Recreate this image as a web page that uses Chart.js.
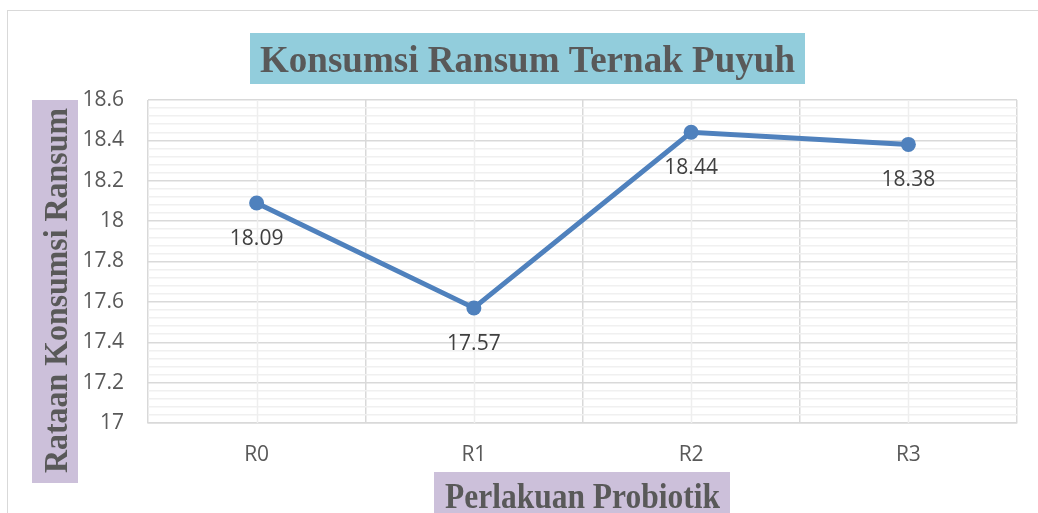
<!DOCTYPE html>
<html><head><meta charset="utf-8">
<script src="https://cdn.jsdelivr.net/npm/chart.js@4/dist/chart.umd.min.js"></script>
<style>
html,body{margin:0;padding:0;background:#fff;overflow:hidden;width:1038px;height:513px}
#frame{position:absolute;left:7px;top:10px;width:1100px;height:600px;border:1px solid #d9d9d9;}
#wrap{position:absolute;left:0;top:0;width:1038px;height:513px}
canvas{display:block}
</style></head><body>
<div id="frame"></div>
<div id="wrap"><canvas id="c" width="1038" height="513" style="width:1038px;height:513px"></canvas></div>
<script>
const categories = ['R0', 'R1', 'R2', 'R3'];
const values = [18.09, 17.57, 18.44, 18.38];
const yTickLabels = ['17', '17.2', '17.4', '17.6', '17.8', '18', '18.2', '18.4', '18.6'];
const chartTitle = 'Konsumsi Ransum Ternak Puyuh';
const xTitle = 'Perlakuan Probiotik';
const yTitle = 'Rataan Konsumsi Ransum';

const TICK_FONT = {family: '"Open Sans", "Noto Sans", sans-serif', size: 21};
const TEXT_COLOR = '#595959';

function isMajor(v) { return Math.abs(v * 5 - Math.round(v * 5)) < 1e-6; }

const boxedTitles = {
  id: 'boxedTitles',
  afterDraw(chart, args, opts) {
    const ctx = chart.ctx;
    for (const b of opts.boxes) {
      ctx.save();
      ctx.fillStyle = b.bg;
      ctx.fillRect(b.rect[0], b.rect[1], b.rect[2], b.rect[3]);
      ctx.font = 'bold ' + b.size + 'px "Liberation Serif", "Times New Roman", serif';
      ctx.fillStyle = TEXT_COLOR;
      ctx.textAlign = 'center';
      ctx.textBaseline = 'alphabetic';
      const w = ctx.measureText(b.text).width;
      const sx = b.width / w;
      if (b.rotate) {
        ctx.translate(b.baseline, b.center);
        ctx.rotate(-Math.PI / 2);
      } else {
        ctx.translate(b.center, b.baseline);
      }
      ctx.scale(sx, 1);
      ctx.fillText(b.text, 0, 0);
      ctx.restore();
    }
  }
};

const centerLines = {
  id: 'centerLines',
  beforeDatasetsDraw(chart) {
    const ctx = chart.ctx, xs = chart.scales.x, a = chart.chartArea;
    ctx.save();
    ctx.strokeStyle = '#eeeeee';
    ctx.lineWidth = 1.5;
    categories.forEach((c, i) => {
      const x = Math.round(xs.getPixelForValue(i)) + 0.5;
      ctx.beginPath();
      ctx.moveTo(x, a.top);
      ctx.lineTo(x, a.bottom);
      ctx.stroke();
    });
    ctx.restore();
  }
};

const valueLabels = {
  id: 'valueLabels',
  afterDatasetsDraw(chart) {
    const ctx = chart.ctx;
    const meta = chart.getDatasetMeta(0);
    ctx.save();
    ctx.font = TICK_FONT.size + 'px ' + TICK_FONT.family;
    ctx.fillStyle = '#404040';
    ctx.textAlign = 'center';
    ctx.textBaseline = 'alphabetic';
    meta.data.forEach((pt, i) => {
      ctx.fillText(values[i].toFixed(2), pt.x, pt.y + 42);
    });
    ctx.restore();
  }
};

new Chart(document.getElementById('c'), {
  type: 'line',
  data: {
    labels: categories,
    datasets: [{
      data: values,
      borderColor: '#4F81BD',
      backgroundColor: '#4F81BD',
      borderWidth: 5,
      pointRadius: 7.5,
      pointHoverRadius: 7.5,
      pointBackgroundColor: '#4F81BD',
      pointBorderWidth: 0,
      tension: 0,
      fill: false
    }]
  },
  options: {
    responsive: false,
    animation: false,
    devicePixelRatio: 1,
    layout: {padding: {top: 100, right: 21, left: 0, bottom: 0}},
    plugins: {
      legend: {display: false},
      tooltip: {enabled: false},
      title: {display: false},
      boxedTitles: {
        boxes: [
          {text: chartTitle, rect: [250, 33, 555, 51], center: 527.5, baseline: 72, size: 38, width: 535, bg: '#92CDDC'},
          {text: xTitle, rect: [434, 472, 296, 45], center: 582.5, baseline: 508, size: 35, width: 275, bg: '#CCC0DA'},
          {text: yTitle, rect: [32, 100, 46, 383], center: 290.5, baseline: 67, size: 33, width: 365, bg: '#CCC0DA', rotate: true}
        ]
      }
    },
    scales: {
      x: {
        type: 'category',
        offset: true,
        grid: {offset: true, color: '#d9d9d9', lineWidth: 1.5, drawTicks: false},
        border: {display: true, color: '#d9d9d9', width: 1.5},
        ticks: {font: TICK_FONT, color: TEXT_COLOR, padding: 19},
        afterFit(scale) { scale.height = 90; }
      },
      y: {
        min: 17,
        max: 18.6,
        grid: {
          drawTicks: false,
          lineWidth: 1.5,
          color: (c) => (c.tick && isMajor(c.tick.value)) ? '#d9d9d9' : '#f0f0f0'
        },
        border: {display: false},
        ticks: {
          stepSize: 0.04,
          autoSkip: false,
          font: TICK_FONT,
          color: TEXT_COLOR,
          padding: 24,
          callback: (v) => {
            const s = String(Number(v.toFixed(1)));
            return (isMajor(v) && yTickLabels.includes(s)) ? s : '';
          }
        },
        afterFit(scale) { scale.width = 148; }
      }
    }
  },
  plugins: [centerLines, valueLabels, boxedTitles]
});
</script>
</body></html>
